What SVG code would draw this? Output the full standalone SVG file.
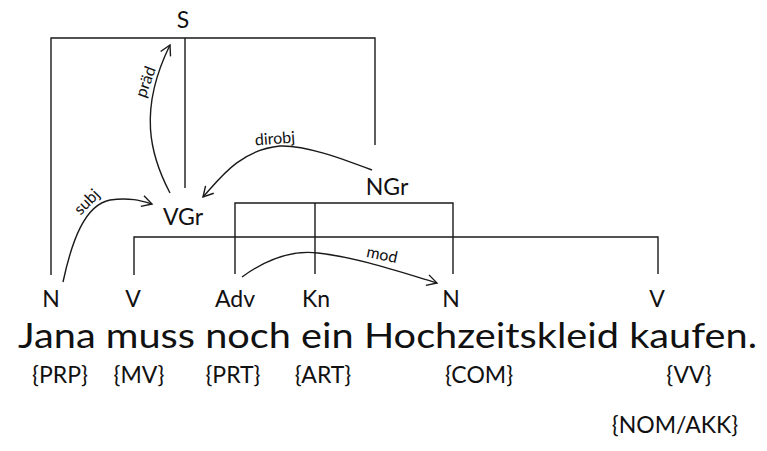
<svg xmlns="http://www.w3.org/2000/svg" width="767" height="451" viewBox="0 0 767 451">
<style>
text{font-family:Lato,"Liberation Sans",sans-serif;fill:#111}
.lbl{font-size:23px;text-anchor:middle}
.ann{font-size:23px;text-anchor:middle}
.arc{font-size:16px;text-anchor:middle}
.sent{font-size:35.5px}
.ln{fill:none;stroke:#1a1a1a;stroke-width:1.4}
.ar{fill:none;stroke:#1a1a1a;stroke-width:1.4;marker-end:url(#chev)}
</style>
<defs>
<marker id="chev" markerUnits="userSpaceOnUse" markerWidth="24" markerHeight="24" viewBox="-12 -12 24 24" refX="0" refY="0" orient="auto">
<path d="M-10,-5.5 L0,0 L-10,5.5" fill="none" stroke="#1a1a1a" stroke-width="1.4"/>
</marker>
</defs>
<rect width="767" height="451" fill="#fff"/>
<g id="connectors">
<path class="ln" d="M51,275 V38 H375 V145 M185,38 V188"/>
<path class="ln" d="M134,275 V237 H658 V274"/>
<path class="ln" d="M235,274 V203 H453 V274 M315,203 V274"/>
<path class="ar" d="M170,193 C150,155 138,110 170,45"/>
<path class="ar" d="M63,282 C72,240 85,205 110,200 C130,197 142,201 152,204"/>
<path class="ar" d="M372,170 C340,158 305,145 280,146 C240,150 220,178 203,197"/>
<path class="ar" d="M242,277 C268,258 293,250 318,253 C360,258 400,272 437,283"/>
<g id="arc-labels">
<text class="arc" transform="translate(146,82) rotate(-70)" y="5">präd</text>
<text class="arc" transform="translate(87,202) rotate(-45)" y="5">subj</text>
<text class="arc" transform="translate(275,139) rotate(-4)" y="5">dirobj</text>
<text class="arc" transform="translate(382,255) rotate(12)" y="5">mod</text>
</g>
</g>
<g id="node-S"><text class="lbl" x="183" y="28">S</text></g>
<g id="node-VGr"><text class="lbl" x="183" y="225">VGr</text></g>
<g id="node-NGr"><text class="lbl" x="387" y="195">NGr</text></g>
<g id="node-N1"><text class="lbl" x="51" y="307">N</text></g>
<g id="node-V1"><text class="lbl" x="133" y="307">V</text></g>
<g id="node-Adv"><text class="lbl" x="235" y="307">Adv</text></g>
<g id="node-Kn"><text class="lbl" x="316" y="307">Kn</text></g>
<g id="node-N2"><text class="lbl" x="451" y="307">N</text></g>
<g id="node-V2"><text class="lbl" x="657" y="307">V</text></g>
<g id="sentence"><text class="sent" x="18" y="348" textLength="739" lengthAdjust="spacingAndGlyphs">Jana muss noch ein Hochzeitskleid kaufen.</text></g>
<g id="annotations">
<text class="ann" x="60" y="383">{PRP}</text>
<text class="ann" x="139" y="383">{MV}</text>
<text class="ann" x="233" y="383">{PRT}</text>
<text class="ann" x="323" y="383">{ART}</text>
<text class="ann" x="479" y="383">{COM}</text>
<text class="ann" x="689" y="383">{VV}</text>
<text class="ann" x="675" y="433">{NOM/AKK}</text>
</g>
</svg>
